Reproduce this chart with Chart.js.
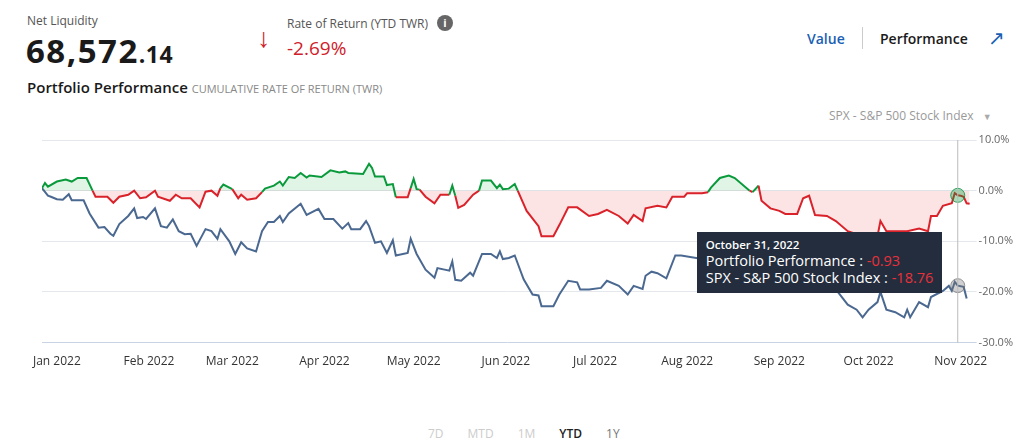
<!DOCTYPE html>
<html>
<head>
<meta charset="utf-8">
<script src="https://cdn.jsdelivr.net/npm/chart.js@4"></script>
<style>
  body { margin: 0; width: 1023px; height: 448px; background: #fff; font-family: "Open Sans", sans-serif; color: #1a1a1a; position: relative; overflow: hidden; }
  .abs { position: absolute; white-space: nowrap; }
  #wrap { position: absolute; left: 0; top: 126px; width: 1023px; height: 247px; }
  #tip { position: absolute; background: #232d3d; color: #fff; padding: 6px 9px 7px 9px; font-size: 14.5px; line-height: 17px; display: none; white-space: nowrap; }
  #tip .t { font-size: 11.5px; font-weight: 600; line-height: 14px; }
  #tip .v { color: #e8313b; }
</style>
</head>
<body>
<div class="abs" style="left:27px;top:12px;font-size:12px;color:#555">Net Liquidity</div>
<div class="abs" style="left:26px;top:28px;font-size:33px;font-weight:700;letter-spacing:1.5px">68,572<span style="font-size:23px;letter-spacing:0.5px">.14</span></div>
<div class="abs" style="left:257px;top:18px;font-size:27px;color:#d0202a">&#8595;</div>
<div class="abs" style="left:287px;top:15px;font-size:12px;color:#555">Rate of Return (YTD TWR)</div>
<div class="abs" style="left:437px;top:15px;width:16px;height:16px;border-radius:50%;background:#666;color:#fff;font-size:11px;font-weight:700;text-align:center;line-height:16px">i</div>
<div class="abs" style="left:287px;top:35px;font-size:19px;color:#d0202a">-2.69%</div>
<div class="abs" style="left:27px;top:77px;font-size:15px;font-weight:600">Portfolio Performance <span style="font-size:11px;font-weight:400;color:#888">CUMULATIVE RATE OF RETURN (TWR)</span></div>
<div class="abs" style="left:807px;top:29px;font-size:14px;font-weight:600;color:#1a5fb4">Value</div>
<div class="abs" style="left:862px;top:27px;width:1px;height:22px;background:#ccc"></div>
<div class="abs" style="left:880px;top:29px;font-size:14px;font-weight:600">Performance</div>
<div class="abs" style="left:988px;top:24px;font-size:20px;color:#1a5fb4">&#8599;</div>
<div class="abs" style="left:829px;top:107px;font-size:12px;color:#999">SPX - S&amp;P 500 Stock Index <span style="font-size:9px;color:#aaa;margin-left:6px">&#9660;</span></div>
<div class="abs" style="left:428px;top:425px;font-size:12px;color:#ccc;word-spacing:0">
  <span style="margin-right:24px">7D</span><span style="margin-right:24px">MTD</span><span style="margin-right:24px">1M</span><span style="margin-right:24px;color:#222;font-weight:600">YTD</span><span style="color:#777">1Y</span>
</div>
<div id="wrap"><canvas id="chart"></canvas><div id="tip"></div></div>
<script>
// days since Jan 1 2022, cumulative return %
const portDays = [-5,-4,-3,0,3,5,7,10,12,13,17,19,21,24,26,28,30,33,34,38,40,42,45,48,50,52,54,55,56,59,61,62,64,67,69,70,73,75,76,78,80,82,84,85,89,92,95,97,98,103,105,106,107,110,111,113,114,118,119,120,121,122,124,127,129,132,133,134,135,137,140,142,143,146,148,149,150,152,154,155,158,162,163,167,169,172,175,179,182,185,189,192,194,197,198,202,205,207,211,212,217,219,220,223,226,228,233,234,236,237,240,243,245,249,251,253,255,259,262,266,271,276,277,279,286,290,293,294,296,298,301,302,303,304,305,306,307];
const portValues = [0.5,1.5,0.8,1.8,2.2,1.8,2.5,2.5,0,-1.2,-1.2,-2.4,-1.2,-0.8,0,-1.5,-1.3,0,-1.2,-2,-0.8,-1.5,-1.5,-3.3,-0.2,0,-1,0.5,1.2,0.3,-1.5,-0.8,-1.8,-1.5,-0.3,0.4,1,1.8,1,2.7,2.5,3.5,2.6,3,2.7,4,3.6,3.8,3.5,3.3,5.3,4.5,2.8,2.8,1.1,1.3,-1.3,-1.3,0.5,2.3,0.3,0.2,-1.2,-2.5,-0.8,-0.8,1,-1,-3.4,-2.8,-0.8,0,2,2,0.5,1.2,0.3,0.4,1.3,0,-4,-7,-9,-9,-6.8,-3.3,-3.3,-5,-4.6,-3.8,-5,-6.5,-4.8,-6,-3.5,-3,-3.3,-1.2,-1.2,-0.5,-0.5,-0.3,0.6,2.5,3,2.5,0,-0.3,1,-2,-3.5,-4,-4.6,-4.6,-1.5,-1,-4.8,-5,-6,-8,-9,-9,-6,-8,-8,-7.5,-8,-5,-5,-3,-2.5,-0.5,-0.93,-1,-1.2,-2.5,-2.6];
const spxDays = [-5,-3,-2,0,2,4,5,9,11,14,16,18,19,21,24,26,27,29,30,33,35,37,39,41,43,45,47,50,52,54,55,58,60,62,64,67,69,71,73,75,76,78,82,84,88,90,93,96,98,99,102,104,105,107,109,111,113,114,118,119,121,124,127,128,132,133,134,136,139,140,143,146,148,149,150,152,154,157,160,162,163,167,169,172,175,176,179,183,185,189,192,194,197,198,200,202,205,208,210,217,223,228,234,240,245,251,257,262,266,269,271,273,276,277,279,282,285,286,287,290,293,294,298,300,301,302,303,305,306];
const spxValues = [0.5,-1,-1.2,-1.7,-1.8,-0.7,-1.9,-1.9,-4.5,-7.3,-7.2,-8.5,-8.9,-6.6,-5,-3.5,-5.4,-5.2,-5.6,-3.5,-7,-7.3,-5.7,-8,-8.6,-8.5,-10.9,-7.6,-8,-9.5,-7.6,-10,-12.5,-10.2,-11.4,-12,-8,-6.2,-6.2,-5,-6.2,-4.5,-2.6,-4.8,-3.6,-5.6,-5.6,-7.5,-6.4,-7.6,-7.6,-6,-7,-10.3,-10,-12.3,-9.8,-12.8,-12.3,-9.5,-12.5,-15.6,-17.2,-15.3,-15.8,-14,-17.6,-17.8,-16.2,-16.8,-12.5,-12.5,-13.3,-12,-13.5,-13.3,-12.8,-17.5,-20.5,-20.7,-22.8,-22.8,-20.5,-17.8,-18.1,-19.5,-19.5,-19.2,-17.8,-18.8,-20.5,-18.8,-19.4,-16.8,-16,-16.3,-17.3,-12.8,-12.8,-13.5,-11.5,-13,-15,-16,-15.5,-17,-18.5,-19.5,-22.5,-23.5,-25,-23.5,-22,-20,-23.5,-24,-25,-23.5,-25,-22,-23,-21,-19.8,-18.8,-19.8,-18,-18.76,-19,-21.3];
const monthDays = [0,31,59,90,120,151,181,212,243,273,304];
const monthLabels = ["Jan 2022","Feb 2022","Mar 2022","Apr 2022","May 2022","Jun 2022","Jul 2022","Aug 2022","Sep 2022","Oct 2022","Nov 2022"];
const yTicks = [10,0,-10,-20,-30];
const hoverDay = 303;
const hoverTitle = "October 31, 2022";

const GREEN = "#0a9a3c", RED = "#d9222a", BLUE = "#4a6890";
const portIdx = portDays.indexOf(hoverDay);
const spxIdx = spxDays.indexOf(hoverDay);

const crosshair = {
  id: "crosshair",
  afterDatasetsDraw(chart) {
    const x = chart.scales.x.getPixelForValue(hoverDay);
    const { top, bottom } = chart.chartArea;
    const ctx = chart.ctx;
    ctx.save();
    ctx.strokeStyle = "#bbb";
    ctx.lineWidth = 1;
    ctx.beginPath();
    ctx.moveTo(x, top);
    ctx.lineTo(x, bottom);
    ctx.stroke();
    ctx.restore();
  }
};

function showTip(chart) {
  const tip = document.getElementById("tip");
  const x = chart.scales.x.getPixelForValue(hoverDay);
  const y = chart.scales.y.getPixelForValue(-8.2);
  tip.innerHTML = '<div class="t">' + hoverTitle + '</div>' +
    'Portfolio Performance : <span class="v">' + portValues[portIdx].toFixed(2) + '</span><br>' +
    'SPX - S&amp;P 500 Stock Index : <span class="v">' + spxValues[spxIdx].toFixed(2) + '</span>';
  tip.style.display = "block";
  tip.style.left = (x - 15 - tip.offsetWidth) + "px";
  tip.style.top = y + "px";
}

const pointR = idx => ctx => ctx.dataIndex === idx ? 7 : 0;

const chart = new Chart(document.getElementById("chart"), {
  type: "line",
  data: {
    datasets: [{
      label: "Portfolio Performance",
      data: portDays.map((d, i) => ({ x: d, y: portValues[i] })),
      borderWidth: 2,
      borderColor: RED,
      segment: {
        borderColor: c => (c.p0.parsed.y + c.p1.parsed.y) / 2 >= 0 ? GREEN : RED
      },
      fill: { target: { value: 0 }, above: "rgba(10,170,60,0.12)", below: "rgba(230,40,50,0.13)" },
      pointRadius: pointR(portIdx),
      pointBackgroundColor: "rgba(10,160,60,0.35)",
      pointBorderColor: "rgba(10,140,60,0.8)",
      pointBorderWidth: 1,
      tension: 0
    }, {
      label: "SPX - S&P 500 Stock Index",
      data: spxDays.map((d, i) => ({ x: d, y: spxValues[i] })),
      borderWidth: 2,
      borderColor: BLUE,
      fill: false,
      pointRadius: pointR(spxIdx),
      pointBackgroundColor: "rgba(120,120,120,0.35)",
      pointBorderColor: "rgba(110,110,110,0.7)",
      pointBorderWidth: 1,
      tension: 0
    }]
  },
  options: {
    responsive: true,
    maintainAspectRatio: false,
    animation: false,
    events: [],
    layout: { padding: { left: 42, right: 8, top: 14, bottom: 0 } },
    plugins: {
      legend: { display: false },
      tooltip: { enabled: false }
    },
    scales: {
      x: {
        type: "linear",
        min: -5,
        max: 308,
        afterBuildTicks: axis => { axis.ticks = monthDays.map(v => ({ value: v })); },
        ticks: {
          callback: v => monthLabels[monthDays.indexOf(v)],
          color: "#333",
          font: { family: "Open Sans", size: 12 },
          maxRotation: 0,
          autoSkip: false,
          padding: 4
        },
        grid: { display: false },
        border: { display: false }
      },
      y: {
        position: "right",
        min: -30,
        max: 10,
        afterBuildTicks: axis => { axis.ticks = yTicks.map(v => ({ value: v })); },
        ticks: {
          callback: v => v.toFixed(1) + "%",
          color: "#666",
          font: { family: "Open Sans", size: 11 },
          padding: 2
        },
        grid: {
          color: c => c.tick.value === -30 ? "#c8d4e4" : "#e4e7ec",
          drawTicks: true,
          tickLength: 4
        },
        border: { display: false }
      }
    }
  },
  plugins: [crosshair]
});
showTip(chart);
</script>
</body>
</html>
